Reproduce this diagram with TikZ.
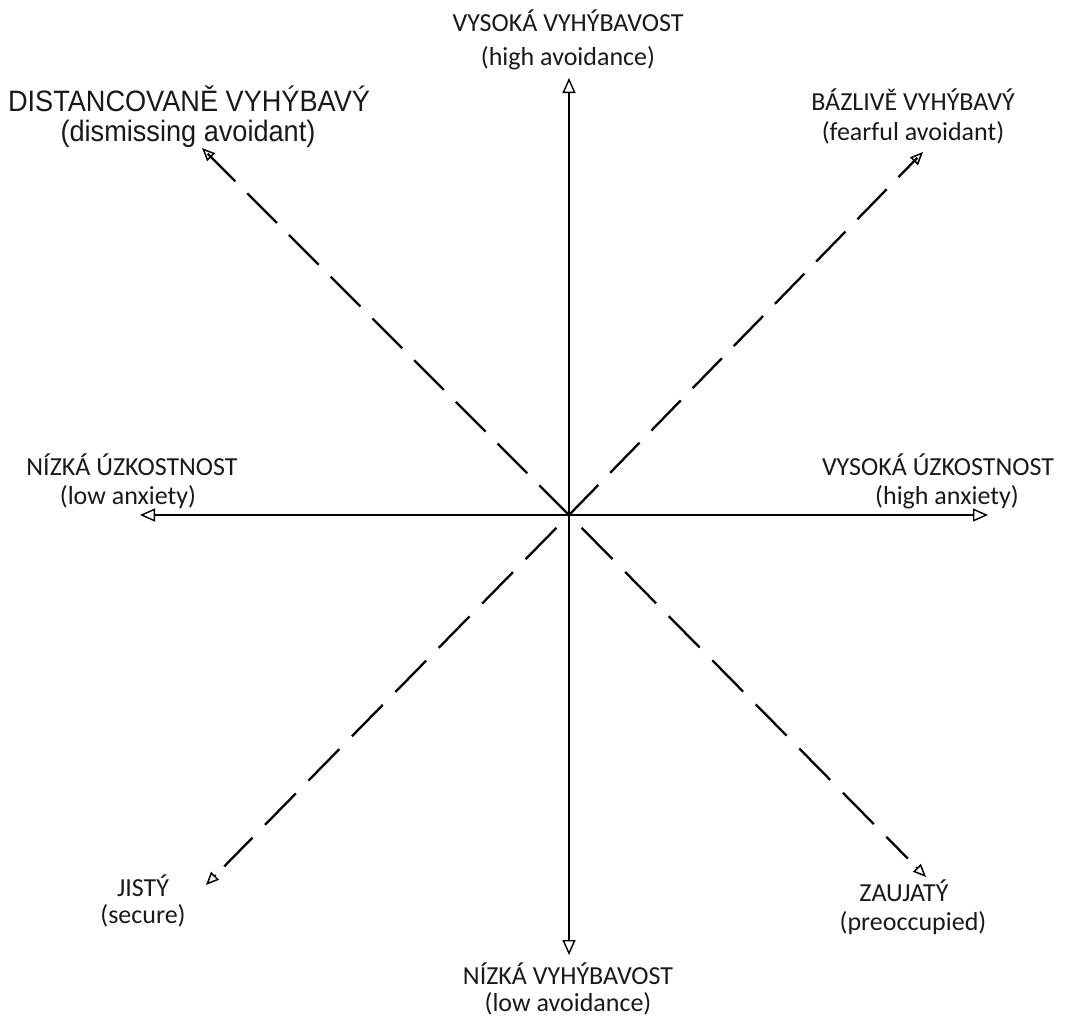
\documentclass[tikz,border=0pt]{standalone}
\usepackage{fontspec}
\setmainfont{Carlito}
\newfontfamily\arialfont[FakeStretch=0.92]{Liberation Sans}
\usetikzlibrary{arrows.meta,calc}
\begin{document}
\begin{tikzpicture}[x=1pt,y=-1pt,
 lbl/.style={inner sep=0pt, anchor=base, text=black!90, font=\fontsize{26}{31}\selectfont},
 albl/.style={inner sep=0pt, anchor=base, text=black!90, font=\arialfont\fontsize{29.5}{33}\selectfont},
 axis/.style={line width=1.8pt, {Triangle[open,length=15pt,width=13pt,line width=1.4pt]}-{Triangle[open,length=15pt,width=13pt,line width=1.4pt]}},
 diagup/.style={line width=2.3pt, dash pattern=on 42pt off 17pt},
 diagdown/.style={line width=2.3pt, dash pattern=on 44pt off 18pt, dash phase=44pt},
 head/.style={line width=1.5pt, -{Triangle[open,length=13pt,width=11pt,line width=1.5pt]}}]
\useasboundingbox (0,0) rectangle (1067,1023);
% labels
\node[lbl] (top1) at (568,31) {VYSOKÁ VYHÝBAVOST};
\node[lbl] (top2) at (568,65) {(high avoidance)};
\node[albl] (tl1) at (189,111) {DISTANCOVANĚ VYHÝBAVÝ};
\node[albl] (tl2) at (188,141) {(dismissing avoidant)};
\node[lbl] (tr1) at (913,110) {BÁZLIVĚ VYHÝBAVÝ};
\node[lbl] (tr2) at (913,140) {(fearful avoidant)};
\node[lbl] (l1) at (132,475) {NÍZKÁ ÚZKOSTNOST};
\node[lbl] (l2) at (128,504) {(low anxiety)};
\node[lbl] (r1) at (938,475) {VYSOKÁ ÚZKOSTNOST};
\node[lbl] (r2) at (947,504) {(high anxiety)};
\node[lbl] (bl1) at (143,896) {JISTÝ};
\node[lbl] (bl2) at (143,923) {(secure)};
\node[lbl] (br1) at (904,901) {ZAUJATÝ};
\node[lbl] (br2) at (913,930) {(preoccupied)};
\node[lbl] (b1) at (568,984) {NÍZKÁ VYHÝBAVOST};
\node[lbl] (b2) at (568,1011) {(low avoidance)};
% coordinates
\coordinate (c) at (569,515);
\coordinate (up) at (569,78);
\coordinate (down) at (569,955);
\coordinate (left) at (140,515);
\coordinate (right) at (988,515);
\coordinate (tl) at (202,148);
\coordinate (tr) at (923,152);
\coordinate (bl) at (206,885);
\coordinate (br) at (926,877);
% axes
\draw[axis] (left) -- (right);
\draw[axis] (up) -- (down);
% diagonals
\draw[diagup] (c) -- ($(tl)!8pt!(c)$);
\draw[diagup] (c) -- ($(tr)!8pt!(c)$);
\draw[diagdown] (c) -- ($(bl)!26pt!(c)$);
\draw[diagdown] (c) -- ($(br)!26pt!(c)$);
\draw[head] ($(tl)!14pt!(c)$) -- (tl);
\draw[head] ($(tr)!14pt!(c)$) -- (tr);
\draw[head] ($(bl)!14pt!(c)$) -- (bl);
\draw[head] ($(br)!14pt!(c)$) -- (br);
\end{tikzpicture}
\end{document}
